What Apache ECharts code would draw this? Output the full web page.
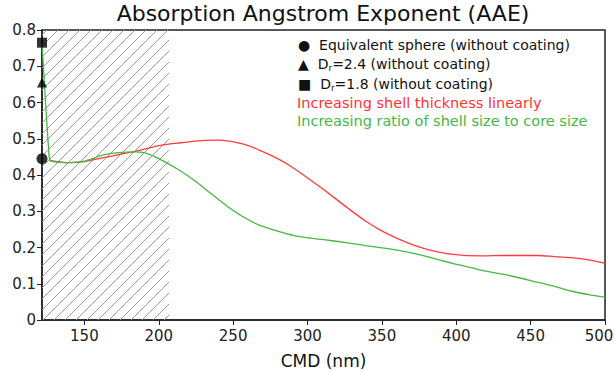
<!DOCTYPE html>
<html>
<head>
<meta charset="utf-8">
<script src="https://cdn.jsdelivr.net/npm/echarts@6/dist/echarts.min.js"></script>
<style>
  html, body { margin: 0; padding: 0; background: #fff; }
  #chart { width: 615px; height: 372px; }
</style>
</head>
<body>
<div id="chart"></div>
<script>
// x range of the plot (nm)
const cmdRange = [121.5, 500];
const hatchRange = [121.5, 207];

// shell thickness increasing linearly (red)
const redCmd = [127, 135, 140, 150, 162, 173, 184, 195, 201, 215, 229, 240, 246, 257, 268, 280, 291, 302, 314, 327, 338, 349, 361, 372, 383, 394, 405, 417, 432, 455, 466, 477, 489, 500];
const redAae = [0.440, 0.435, 0.434, 0.437, 0.447, 0.456, 0.465, 0.476, 0.482, 0.489, 0.495, 0.496, 0.494, 0.485, 0.468, 0.445, 0.418, 0.386, 0.350, 0.309, 0.276, 0.248, 0.224, 0.206, 0.192, 0.183, 0.178, 0.177, 0.178, 0.178, 0.175, 0.172, 0.166, 0.157];

// ratio of shell size to core size increasing (green)
const greenCmd = [121.5, 123, 124.5, 126, 127, 135, 140, 150, 162, 173, 184, 190, 195, 201, 212, 224, 235, 246, 257, 268, 280, 291, 302, 314, 327, 338, 350, 361, 372, 383, 394, 405, 417, 432, 455, 466, 477, 489, 500];
const greenAae = [0.765, 0.66, 0.56, 0.47, 0.440, 0.435, 0.434, 0.438, 0.455, 0.462, 0.464, 0.462, 0.455, 0.443, 0.418, 0.385, 0.349, 0.314, 0.284, 0.261, 0.245, 0.233, 0.226, 0.220, 0.213, 0.206, 0.199, 0.192, 0.183, 0.172, 0.160, 0.149, 0.137, 0.126, 0.104, 0.093, 0.080, 0.070, 0.063];

// uncoated reference points at the smallest CMD
const markerNames = ['Equivalent sphere (without coating)', 'Dr=2.4 (without coating)', 'Dr=1.8 (without coating)'];
const markerSymbols = ['circle', 'triangle', 'rect'];
const markerAae = [0.445, 0.655, 0.765];

const font = 'DejaVu Sans';

// diagonal hatch tile
function hatchTile() {
  const s = 11;
  const c = document.createElement('canvas');
  c.width = s; c.height = s;
  const ctx = c.getContext('2d');
  ctx.strokeStyle = '#9a9a9a';
  ctx.lineWidth = 1;
  ctx.beginPath();
  ctx.moveTo(0, s); ctx.lineTo(s, 0);
  ctx.moveTo(-2, 2); ctx.lineTo(2, -2);
  ctx.moveTo(s - 2, s + 2); ctx.lineTo(s + 2, s - 2);
  ctx.stroke();
  return c;
}

const chart = echarts.init(document.getElementById('chart'), null, { renderer: 'svg' });

const scatterSeries = markerAae.map((v, i) => ({
  name: markerNames[i],
  type: 'scatter',
  symbol: markerSymbols[i],
  symbolSize: i === 0 ? 11 : 10,
  clip: false,
  itemStyle: { color: '#000' },
  data: [[cmdRange[0], v]],
  z: 5
}));

const subRich = { s: { fontSize: 9, fontFamily: font, verticalAlign: 'bottom', padding: [8, 0, 0, 0] } };

chart.setOption({
  animation: false,
  title: {
    text: 'Absorption Angstrom Exponent (AAE)',
    left: 318,
    top: -3,
    textAlign: 'center',
    textStyle: { fontFamily: font, fontSize: 22, fontWeight: 'normal', color: '#111' }
  },
  grid: {
    left: 42,
    right: 10,
    top: 30,
    bottom: 52,
    outerBoundsMode: 'none',
    containLabel: false,
    show: true,
    borderColor: '#222',
    borderWidth: 1.5
  },
  xAxis: {
    type: 'value',
    min: cmdRange[0],
    max: cmdRange[1],
    splitNumber: 8,
    name: 'CMD (nm)',
    nameLocation: 'middle',
    nameGap: 32,
    nameTextStyle: { fontFamily: font, fontSize: 17, color: '#111' },
    axisLine: { lineStyle: { color: '#222', width: 1.5 } },
    axisTick: { length: 5, lineStyle: { color: '#222' } },
    axisLabel: {
      fontFamily: font, fontSize: 15, color: '#222', margin: 8, showMinLabel: false,
      // keep the last label inside the page
      formatter: v => (v === cmdRange[1] ? '{end|' + v + '}' : String(v)),
      rich: { end: { fontFamily: font, fontSize: 15, color: '#222', padding: [0, 12, 0, 0] } }
    },
    splitLine: { show: false }
  },
  yAxis: {
    type: 'value',
    min: 0,
    max: 0.8,
    interval: 0.1,
    axisLine: { show: true, lineStyle: { color: '#222', width: 1.5 } },
    axisTick: { show: true, length: 5, lineStyle: { color: '#222' } },
    axisLabel: { fontFamily: font, fontSize: 15, color: '#222', margin: 6 },
    splitLine: { show: false }
  },
  graphic: [
    {
      type: 'text', left: 298, top: 38,
      style: { text: '●  Equivalent sphere (without coating)', font: '14px "DejaVu Sans"', fill: '#111' }
    },
    {
      type: 'text', left: 298, top: 57,
      style: { text: '▲  D{s|r}=2.4 (without coating)', font: '14px "DejaVu Sans"', fill: '#111', rich: subRich }
    },
    {
      type: 'text', left: 298, top: 77,
      style: { text: '■  D{s|r}=1.8 (without coating)', font: '14px "DejaVu Sans"', fill: '#111', rich: subRich }
    },
    {
      type: 'text', left: 297, top: 95,
      style: { text: 'Increasing shell thickness linearly', font: '14.5px "DejaVu Sans"', fill: '#ff3333' }
    },
    {
      type: 'text', left: 297, top: 113,
      style: { text: 'Increasing ratio of shell size to core size', font: '14.5px "DejaVu Sans"', fill: '#45b845' }
    }
  ],
  series: [
    {
      name: 'Increasing shell thickness linearly',
      type: 'line',
      data: redCmd.map((x, i) => [x, redAae[i]]),
      showSymbol: false,
      smooth: 0.3,
      lineStyle: { color: '#ff3b3b', width: 1.3 },
      z: 3,
      markArea: {
        silent: true,
        itemStyle: { color: { image: hatchTile(), repeat: 'repeat' } },
        data: [[{ xAxis: hatchRange[0], yAxis: 0 }, { xAxis: hatchRange[1], yAxis: 0.8 }]]
      }
    },
    {
      name: 'Increasing ratio of shell size to core size',
      type: 'line',
      data: greenCmd.map((x, i) => [x, greenAae[i]]),
      showSymbol: false,
      smooth: 0.25,
      lineStyle: { color: '#45b845', width: 1.3 },
      z: 4
    },
    ...scatterSeries
  ]
});
</script>
</body>
</html>
